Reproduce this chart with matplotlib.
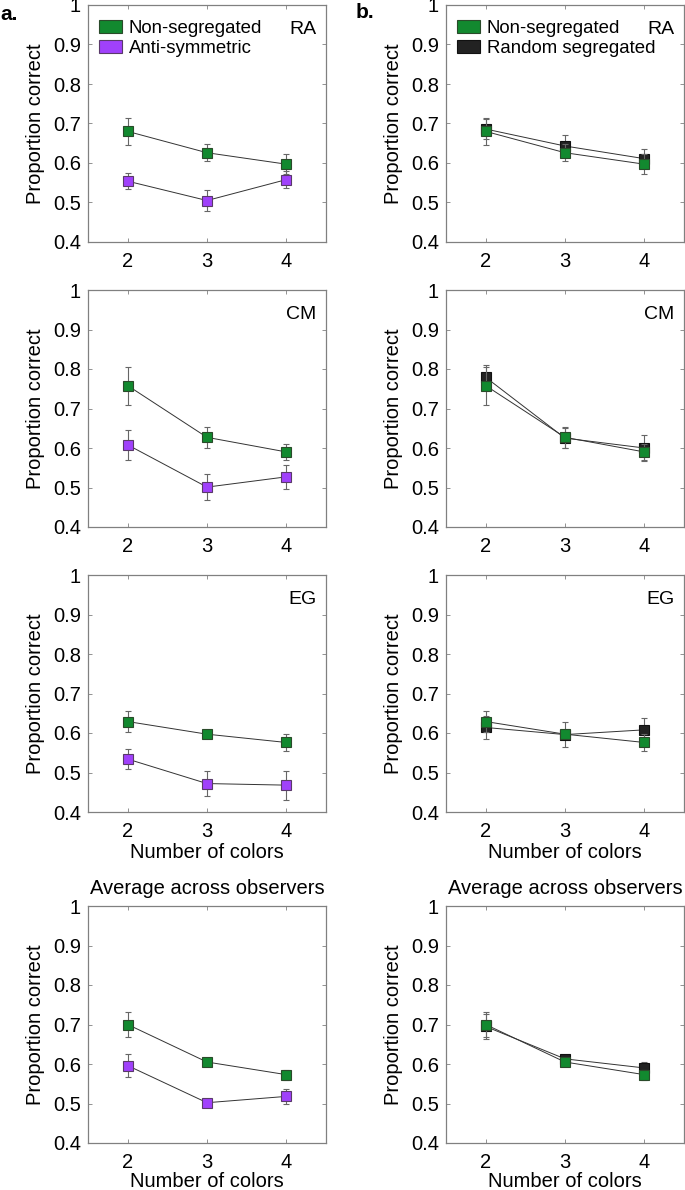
import matplotlib
matplotlib.use("Agg")
import matplotlib.pyplot as plt
from matplotlib.patches import Patch

plt.rcParams['font.family'] = ['Liberation Sans', 'DejaVu Sans']

n_colors = [2, 3, 4]
panels = ["RA", "CM", "EG", "Average"]

# Column a: Non-segregated vs Anti-symmetric
a_nonseg = {"RA": [0.680, 0.626, 0.597], "CM": [0.758, 0.627, 0.590],
            "EG": [0.629, 0.597, 0.576], "Average": [0.700, 0.605, 0.573]}
a_nonseg_err = {"RA": [0.034, 0.021, 0.025], "CM": [0.048, 0.026, 0.021],
                "EG": [0.026, 0.010, 0.021], "Average": [0.031, 0.007, 0.013]}
a_anti = {"RA": [0.554, 0.505, 0.558], "CM": [0.608, 0.501, 0.527],
          "EG": [0.534, 0.472, 0.468], "Average": [0.596, 0.502, 0.518]}
a_anti_err = {"RA": [0.021, 0.027, 0.022], "CM": [0.038, 0.032, 0.031],
              "EG": [0.025, 0.032, 0.037], "Average": [0.029, 0.010, 0.018]}

# Column b: Non-segregated vs Random segregated
b_nonseg = a_nonseg
b_nonseg_err = a_nonseg_err
b_rand = {"RA": [0.686, 0.643, 0.611], "CM": [0.779, 0.625, 0.600],
          "EG": [0.614, 0.596, 0.608], "Average": [0.695, 0.613, 0.590]}
b_rand_err = {"RA": [0.025, 0.028, 0.024], "CM": [0.030, 0.025, 0.034],
              "EG": [0.030, 0.031, 0.030], "Average": [0.032, 0.008, 0.015]}

GREEN = "#12892f"
PURPLE = "#a041fb"
BLACK = "#222222"

fig = plt.figure(figsize=(6.85, 11.9), dpi=100)

W = 238 / 685
H = 237 / 1190
lefts = [88 / 685, 446 / 685]
bottoms_px = [242, 527, 812, 1143]

def style_axes(ax):
    ax.set_xlim(1.5, 4.5)
    ax.set_ylim(0.4, 1.0)
    ax.set_xticks(n_colors)
    ax.set_xticklabels([str(v) for v in n_colors])
    ax.set_yticks([0.4, 0.5, 0.6, 0.7, 0.8, 0.9, 1.0])
    ax.set_yticklabels(["0.4", "0.5", "0.6", "0.7", "0.8", "0.9", "1"])
    ax.tick_params(direction="in", top=True, right=True, length=3,
                   width=0.6, color="#808080", labelsize=14.5)
    ax.tick_params(axis="x", pad=7)
    ax.tick_params(axis="y", pad=5)
    for s in ax.spines.values():
        s.set_color("#808080")
        s.set_linewidth(0.9)
    ax.set_ylabel("Proportion correct", fontsize=14.5, labelpad=6)

def draw_series(ax, y, err, color, edge, z):
    ax.errorbar(n_colors, y, yerr=err, fmt="none", ecolor="#666666",
                elinewidth=0.8, capsize=2, capthick=0.8, zorder=z)
    ax.plot(n_colors, y, color="#333333", lw=0.7, zorder=z + 0.5)
    ax.plot(n_colors, y, ls="none", marker="s", ms=7.6, mfc=color,
            mec=edge, mew=0.8, zorder=z + 1)

for col in range(2):
    for row, key in enumerate(panels):
        b = 1 - bottoms_px[row] / 1190
        ax = fig.add_axes([lefts[col], b, W, H])
        style_axes(ax)
        if col == 0:
            draw_series(ax, a_nonseg[key], a_nonseg_err[key], GREEN, "#2a4a2a", 3)
            draw_series(ax, a_anti[key], a_anti_err[key], PURPLE, "#5a3a6a", 3)
        else:
            draw_series(ax, b_rand[key], b_rand_err[key], BLACK, "#111111", 2)
            draw_series(ax, b_nonseg[key], b_nonseg_err[key], GREEN, "#2a4a2a", 4)
        if key != "Average":
            ax.text(0.96, 0.897, key, transform=ax.transAxes, ha="right",
                    va="center", fontsize=14)
        else:
            ax.set_title("Average across observers", fontsize=14.5, pad=9)
        if row == 2:
            ax.set_xlabel("Number of colors", fontsize=14.5, labelpad=2)
        elif row == 3:
            ax.set_xlabel("Number of colors", fontsize=14.5, labelpad=0)
        if row == 0:
            if col == 0:
                handles = [Patch(facecolor=GREEN, edgecolor="#2a4a2a", lw=0.8),
                           Patch(facecolor=PURPLE, edgecolor="#5a3a6a", lw=0.8)]
                labels = ["Non-segregated", "Anti-symmetric"]
            else:
                handles = [Patch(facecolor=GREEN, edgecolor="#2a4a2a", lw=0.8),
                           Patch(facecolor=BLACK, edgecolor="#111111", lw=0.8)]
                labels = ["Non-segregated", "Random segregated"]
            ax.legend(handles, labels, loc="upper left", frameon=False,
                      fontsize=13.4, handlelength=1.2, handleheight=0.7,
                      handletextpad=0.4, labelspacing=0.2,
                      borderaxespad=0.2, bbox_to_anchor=(0.0, 0.985))

fig.text(0 / 685, 1 - 14 / 1190, "a.", fontsize=15, fontweight="bold",
         ha="left", va="center")
fig.text(356 / 685, 1 - 12 / 1190, "b.", fontsize=15, fontweight="bold",
         ha="left", va="center")

fig.savefig("out.png", dpi=100)
